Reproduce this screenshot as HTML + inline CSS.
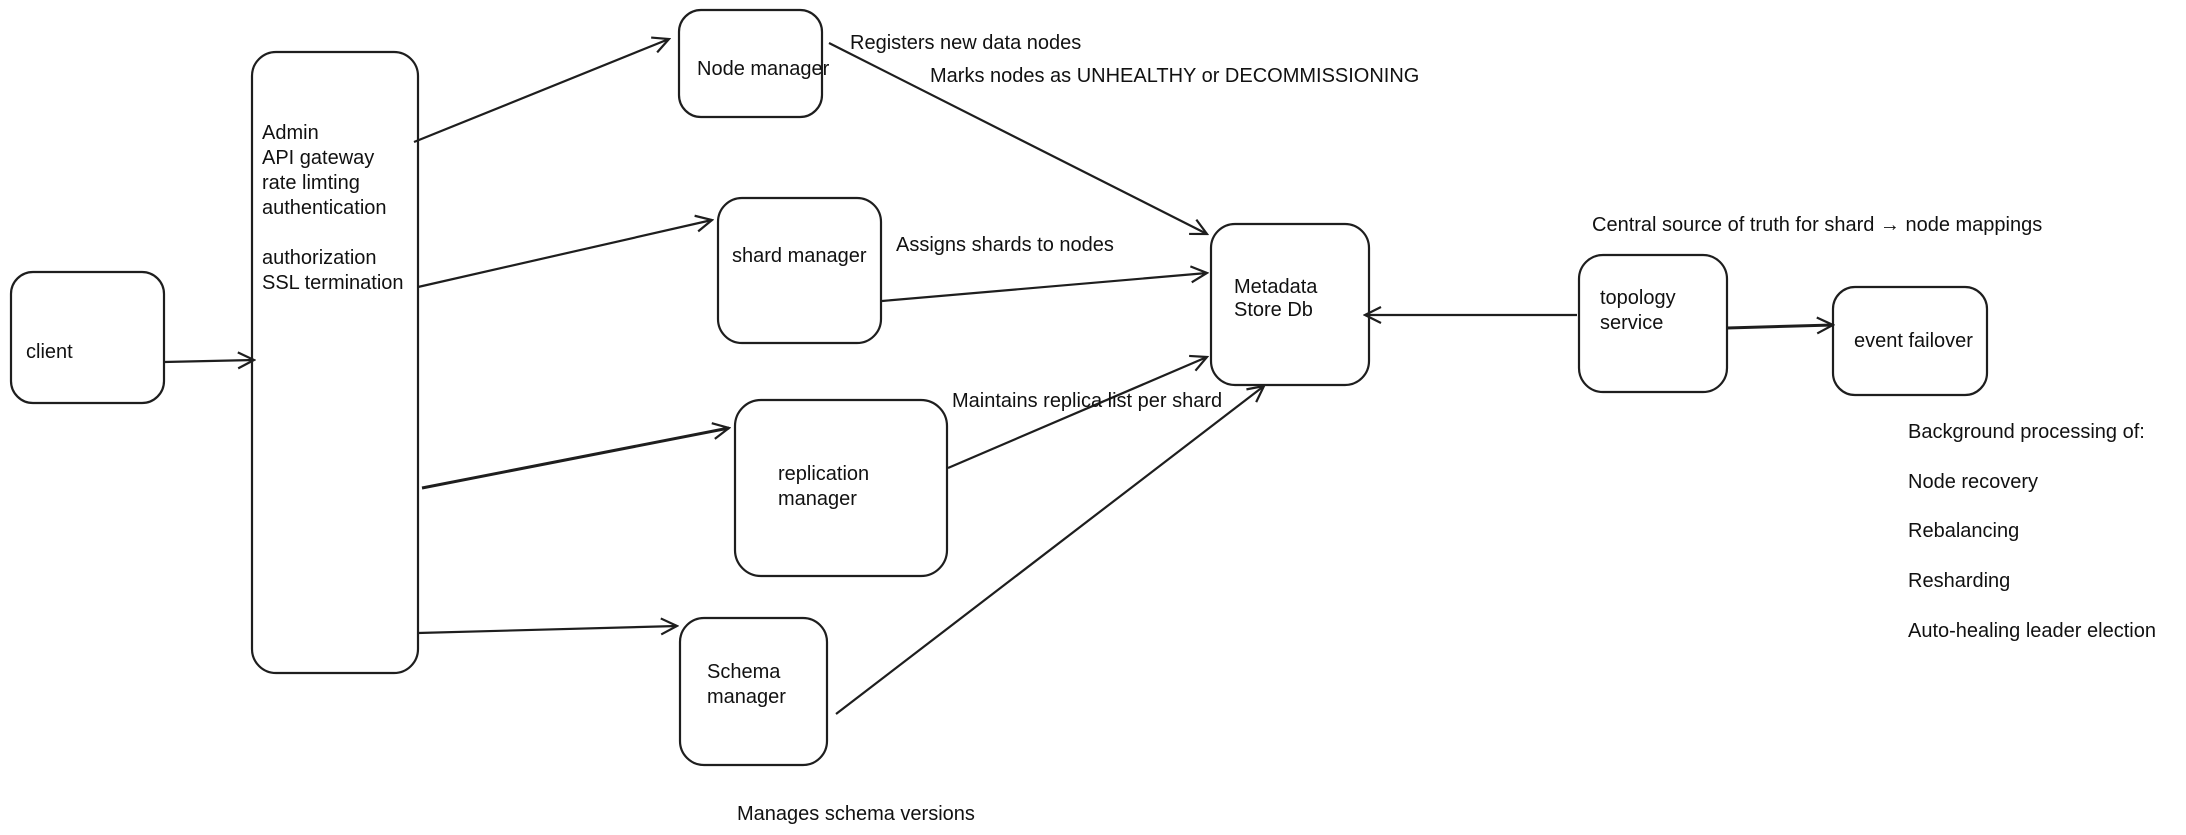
<!DOCTYPE html>
<html><head><meta charset="utf-8"><style>
html,body{margin:0;padding:0;background:#fff;}
svg{display:block;}
text{font-family:"Liberation Sans","DejaVu Sans",sans-serif;font-size:20px;fill:#111;}
</style></head><body>
<svg width="2186" height="835" viewBox="0 0 2186 835" xmlns="http://www.w3.org/2000/svg">
<defs>
<marker id="a" viewBox="0 0 20 20" refX="18" refY="10" markerWidth="20" markerHeight="20" markerUnits="userSpaceOnUse" orient="auto">
<path d="M2 2 L18 10 L2 18" fill="none" stroke="#1e1e1e" stroke-width="2.2"/>
</marker>
</defs>
<g fill="none" stroke="#1e1e1e" stroke-width="2.2">
<rect x="11" y="272" width="153" height="131" rx="22"/>
<rect x="252" y="52" width="166" height="621" rx="24"/>
<rect x="679" y="10" width="143" height="107" rx="22"/>
<rect x="718" y="198" width="163" height="145" rx="24"/>
<rect x="735" y="400" width="212" height="176" rx="26"/>
<rect x="680" y="618" width="147" height="147" rx="24"/>
<rect x="1211" y="224" width="158" height="161" rx="24"/>
<rect x="1579" y="255" width="148" height="137" rx="24"/>
<rect x="1833" y="287" width="154" height="108" rx="22"/>
</g>
<g fill="none" stroke="#1e1e1e" stroke-width="2.2" marker-end="url(#a)">
<line x1="164" y1="362" x2="254" y2="360"/>
<line x1="414" y1="142" x2="669" y2="39"/>
<line x1="418" y1="287" x2="712" y2="220"/>
<line x1="422" y1="488" x2="729" y2="428" stroke-width="3"/>
<line x1="418" y1="633" x2="677" y2="626"/>
<line x1="829" y1="43" x2="1207" y2="234"/>
<line x1="882" y1="301" x2="1207" y2="273"/>
<line x1="948" y1="468" x2="1207" y2="357"/>
<line x1="836" y1="714" x2="1264" y2="386"/>
<line x1="1577" y1="315" x2="1365" y2="315"/>
<line x1="1727" y1="328" x2="1833" y2="325" stroke-width="3"/>
</g>
<text x="26" y="358">client</text>
<text x="262" y="139">Admin</text>
<text x="262" y="164">API gateway</text>
<text x="262" y="189">rate limting</text>
<text x="262" y="214">authentication</text>
<text x="262" y="264">authorization</text>
<text x="262" y="289">SSL termination</text>
<text x="697" y="75">Node manager</text>
<text x="732" y="262">shard manager</text>
<text x="778" y="480">replication</text>
<text x="778" y="505">manager</text>
<text x="707" y="678">Schema</text>
<text x="707" y="703">manager</text>
<text x="1234" y="293">Metadata</text>
<text x="1234" y="316">Store Db</text>
<text x="1600" y="304">topology</text>
<text x="1600" y="329">service</text>
<text x="1854" y="347">event failover</text>
<text x="850" y="49">Registers new data nodes</text>
<text x="930" y="82">Marks nodes as UNHEALTHY or DECOMMISSIONING</text>
<text x="896" y="251">Assigns shards to nodes</text>
<text x="952" y="407">Maintains replica list per shard</text>
<text x="737" y="820">Manages schema versions</text>
<text x="1592" y="231">Central source of truth for shard → node mappings</text>
<text x="1908" y="438">Background processing of:</text>
<text x="1908" y="488">Node recovery</text>
<text x="1908" y="537">Rebalancing</text>
<text x="1908" y="587">Resharding</text>
<text x="1908" y="637">Auto-healing leader election</text>
</svg>
</body></html>
